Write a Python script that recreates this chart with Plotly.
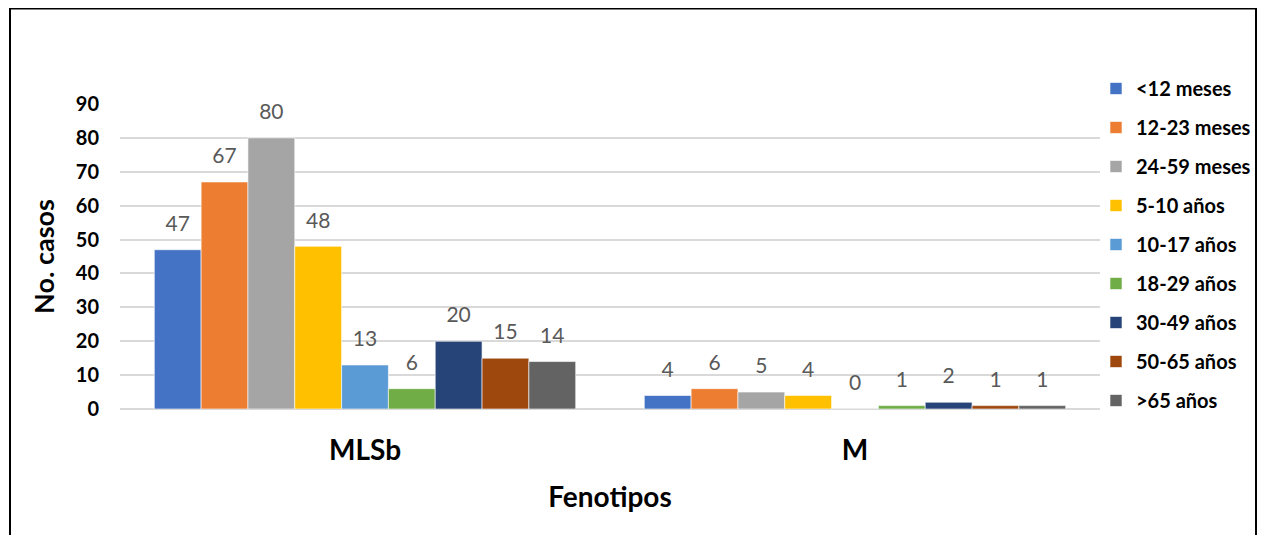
import plotly.graph_objects as go

categories = ["MLSb", "M"]
series_names = ["<12 meses", "12-23 meses", "24-59 meses", "5-10 años", "10-17 años",
                "18-29 años", "30-49 años", "50-65 años", ">65 años"]
series_values = [
    [47, 4],
    [67, 6],
    [80, 5],
    [48, 4],
    [13, 0],
    [6, 1],
    [20, 2],
    [15, 1],
    [14, 1],
]
colors = ["#4472C4", "#ED7D31", "#A5A5A5", "#FFC000", "#5B9BD5",
          "#70AD47", "#264478", "#9E480E", "#636363"]
y_ticks = [0, 10, 20, 30, 40, 50, 60, 70, 80, 90]

FONT = "Lato"
# figure is placed at (8, 8) on the page by the default body margin
W, H = 1250, 527
ML, MR, MT, MB = 112, 158, 96, 126
PW, PH = W - ML - MR, H - MT - MB

fig = go.Figure()
for name, vals, col in zip(series_names, series_values, colors):
    fig.add_trace(go.Bar(
        x=categories, y=vals, name=name, marker_color=col,
        marker_line_width=0.6, marker_line_color="white",
        legendgroup=name,
    ))
for name, vals in zip(series_names, series_values):
    fig.add_trace(go.Scatter(
        x=categories, y=vals, mode="markers+text", text=[str(v) for v in vals],
        textposition="top center", marker=dict(size=20, opacity=0),
        textfont=dict(family=FONT, size=21, color="#595959"),
        showlegend=False, hoverinfo="skip", cliponaxis=False,
        legendgroup="labels_" + name,
    ))


def px_x(px):
    return (px - ML) / PW


def px_y(py):
    return (H - MB - py) / PH


shapes = [
    dict(type="line", xref="paper", yref="paper", x0=px_x(2), x1=px_x(2), y0=px_y(0), y1=px_y(H),
         line=dict(color="black", width=2)),
    dict(type="line", xref="paper", yref="paper", x0=px_x(1248), x1=px_x(1248), y0=px_y(0), y1=px_y(H),
         line=dict(color="black", width=2)),
    dict(type="line", xref="paper", yref="paper", x0=px_x(2), x1=px_x(1248), y0=px_y(0.5), y1=px_y(0.5),
         line=dict(color="black", width=2)),
]

fig.update_layout(
    width=W, height=H,
    margin=dict(l=ML, r=MR, t=MT, b=MB, pad=0, autoexpand=False),
    paper_bgcolor="white", plot_bgcolor="white",
    barmode="group", bargap=0.14, bargroupgap=0,
    scattermode="group", scattergap=0.14,
    font=dict(family=FONT, color="black"),
    shapes=shapes,
    showlegend=True,
    legend=dict(
        x=px_x(1088), xanchor="left", y=px_y(61), yanchor="top",
        font=dict(family=FONT, size=20, color="black", weight="bold"),
        tracegroupgap=10, itemwidth=30, bgcolor="rgba(0,0,0,0)",
        traceorder="grouped", maxheight=480,
    ),
    xaxis=dict(
        showgrid=False, showline=False, zeroline=False, ticks="",
        tickfont=dict(family=FONT, size=28, color="black", weight="bold"),
        ticklabelstandoff=22,
        title=dict(text="Fenotipos", font=dict(family=FONT, size=28, color="black", weight="bold"),
                   standoff=22),
        fixedrange=True,
    ),
    yaxis=dict(
        range=[0, 90], tickvals=y_ticks, showgrid=True, gridcolor="#D9D9D9", gridwidth=1.5,
        zeroline=True, zerolinecolor="#D9D9D9", zerolinewidth=1.5, showline=False, ticks="",
        tickfont=dict(family=FONT, size=20, color="black", weight="bold"),
        ticklabelstandoff=20,
        title=dict(text="No. casos", font=dict(family=FONT, size=27, color="black", weight="bold"),
                   standoff=13),
        fixedrange=True,
    ),
)

fig.write_html("out.html")
